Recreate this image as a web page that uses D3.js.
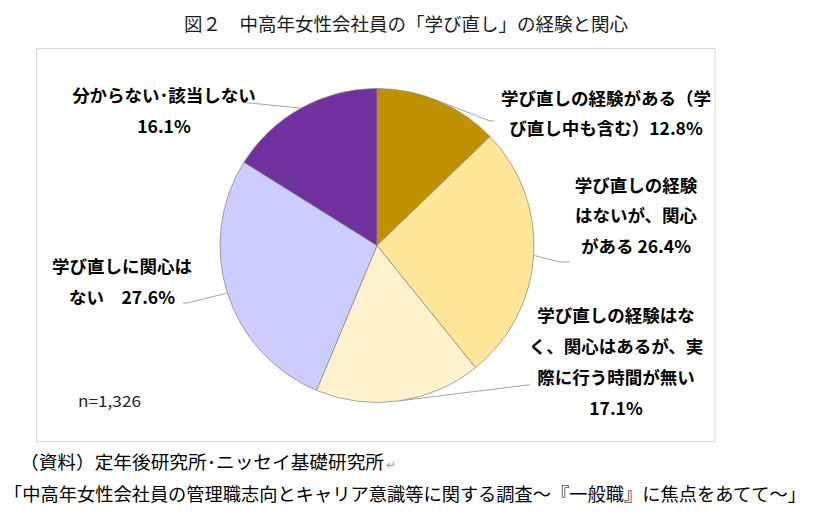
<!DOCTYPE html>
<html><head><meta charset="utf-8">
<script src="https://cdn.jsdelivr.net/npm/d3@7"></script>
<style>
html,body{margin:0;padding:0;background:#fff;}
svg{display:block;}
text{font-family:"Noto Sans CJK JP","Noto Sans",sans-serif;}
</style></head>
<body>
<svg id="chart" width="825" height="521"></svg>
<script>
// ---- data ----
const categories = [
  "学び直しの経験がある（学び直し中も含む）",
  "学び直しの経験はないが、関心がある",
  "学び直しの経験はなく、関心はあるが、実際に行う時間が無い",
  "学び直しに関心はない",
  "分からない・該当しない"
];
const values = [12.8, 26.4, 17.1, 27.6, 16.1];
const colors = ["#BF9000", "#FFE699", "#FFF2CC", "#CCCCFF", "#7030A0"];
const labelLines = [
  ["学び直しの経験がある（学", "び直し中も含む）12.8%"],
  ["学び直しの経験", "はないが、関心", "がある 26.4%"],
  ["学び直しの経験はな", "く、関心はあるが、実", "際に行う時間が無い", "17.1%"],
  ["学び直しに関心は", "ない　27.6%"],
  ["分からない･該当しない", "16.1%"]
];
const titleText = "図２　中高年女性会社員の「学び直し」の経験と関心";
const sampleText = "n=1,326";
const sourceLines = [
  "（資料）定年後研究所･ニッセイ基礎研究所",
  "「中高年女性会社員の管理職志向とキャリア意識等に関する調査～『一般職』に焦点をあてて～」"
];

// ---- layout ----
const W = 825, H = 521;
const cx = 377, cy = 245.5, R = 157;
const labelPos = [ // center x, first line center y
  {x: 606, y: 97.5},
  {x: 636, y: 184},
  {x: 616, y: 314},
  {x: 122, y: 265},
  {x: 164, y: 94}
];
const lineH = [30, 30.8, 31, 31, 31.5];
const leaderEnd = [
  [[490, 121], [494, 121]],
  [[560, 262], [570, 262]],
  [[527, 385], [530, 385]],
  [[187, 303], [183, 303]],
  [[250, 103], [247, 103]]
];

const svg = d3.select("#chart");

// frame
svg.append("rect").attr("x", 36.5).attr("y", 48.5).attr("width", 678.5).attr("height", 393)
  .attr("fill", "#fff").attr("stroke", "#D9D9D9").attr("stroke-width", 1);

// title
svg.append("text").attr("x", 406).attr("y", 23).attr("text-anchor", "middle")
  .attr("dominant-baseline", "central").attr("font-size", 18.5).attr("fill", "#1a1a1a")
  .text(titleText);

// pie
const pie = d3.pie().sort(null).value(d => d);
const arcs = pie(values);
const arc = d3.arc().innerRadius(0).outerRadius(R);
const g = svg.append("g").attr("transform", `translate(${cx},${cy})`);
g.selectAll("path").data(arcs).join("path")
  .attr("d", arc)
  .attr("fill", (d, i) => colors[i])
  .attr("stroke", "#8a8a8a").attr("stroke-width", 0.75);

// leader lines
arcs.forEach((d, i) => {
  const a = (d.startAngle + d.endAngle) / 2;
  const sx = cx + R * Math.sin(a), sy = cy - R * Math.cos(a);
  const pts = [[sx, sy]].concat(leaderEnd[i]);
  svg.append("path").attr("d", d3.line()(pts))
    .attr("fill", "none").attr("stroke", "#A6A6A6").attr("stroke-width", 1);
});

// labels
labelLines.forEach((lines, i) => {
  const t = svg.append("text").attr("text-anchor", "middle")
    .attr("font-size", 17.5).attr("font-weight", "bold").attr("fill", "#000");
  lines.forEach((ln, j) => {
    t.append("tspan").attr("x", labelPos[i].x).attr("y", labelPos[i].y + j * lineH[i])
      .attr("dominant-baseline", "central").text(ln);
  });
});

// sample size
svg.append("text").attr("x", 78).attr("y", 400).attr("dominant-baseline", "central")
  .attr("font-size", 15.5).attr("fill", "#262626").attr("textLength", 63).attr("lengthAdjust", "spacingAndGlyphs")
  .text(sampleText);

// source
svg.append("text").attr("x", 20).attr("y", 461).attr("dominant-baseline", "central")
  .attr("font-size", 18).attr("fill", "#000").attr("textLength", 364).attr("lengthAdjust", "spacingAndGlyphs")
  .text(sourceLines[0]);
svg.append("text").attr("x", 386).attr("y", 463).attr("dominant-baseline", "central")
  .attr("font-size", 12).attr("fill", "#A0A0A0").attr("font-family", "DejaVu Sans").text("↵");
svg.append("text").attr("x", 4).attr("y", 493).attr("dominant-baseline", "central")
  .attr("font-size", 18).attr("fill", "#000").attr("textLength", 802).attr("lengthAdjust", "spacingAndGlyphs")
  .text(sourceLines[1]);
</script>
</body></html>
